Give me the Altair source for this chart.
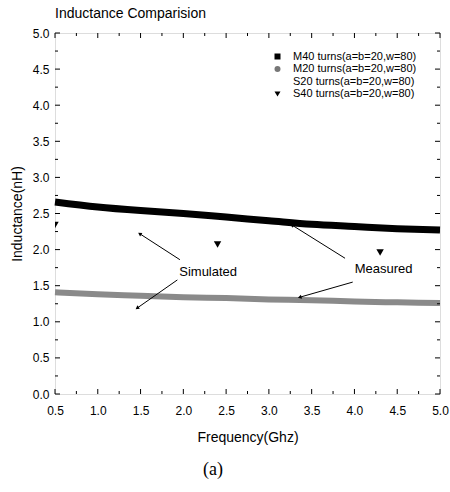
import altair as alt
import pandas as pd

# ---- data ----
freq = [0.5, 1.0, 1.5, 2.0, 2.5, 3.0, 3.5, 4.0, 4.5, 5.0]
m40 = [2.66, 2.59, 2.54, 2.50, 2.45, 2.40, 2.35, 2.32, 2.29, 2.27]
m20 = [1.41, 1.38, 1.36, 1.34, 1.33, 1.31, 1.30, 1.28, 1.27, 1.26]

s40_freq = [0.5, 2.4, 4.3]
s40_val = [2.34, 2.07, 1.96]
s20_freq = [0.5]
s20_val = [1.26]

series = ["M40 turns(a=b=20,w=80)", "M20 turns(a=b=20,w=80)",
          "S20 turns(a=b=20,w=80)", "S40 turns(a=b=20,w=80)"]

x_major = [0.5, 1.0, 1.5, 2.0, 2.5, 3.0, 3.5, 4.0, 4.5, 5.0]
x_minor = [0.75, 1.25, 1.75, 2.25, 2.75, 3.25, 3.75, 4.25, 4.75]
y_major = [0.0, 0.5, 1.0, 1.5, 2.0, 2.5, 3.0, 3.5, 4.0, 4.5, 5.0]
y_minor = [0.25, 0.75, 1.25, 1.75, 2.25, 2.75, 3.25, 3.75, 4.25, 4.75]

labels_text = ["Simulated", "Measured"]
labels_x = [2.29, 4.34]
labels_y = [1.69, 1.73]

arrow_tail_x = [1.96, 1.93, 3.89, 3.98]
arrow_tail_y = [1.86, 1.58, 1.88, 1.55]
arrow_head_x = [1.49, 1.46, 3.27, 3.36]
arrow_head_y = [2.22, 1.19, 2.34, 1.34]
arrow_angle = [303, 235, 302, 254]

W, H = 385, 361
FONT = "Liberation Sans"

xs = alt.Scale(domain=[0.5, 5.0], nice=False, zero=False)
ys = alt.Scale(domain=[0.0, 5.0], nice=False, zero=False)

bands = pd.DataFrame({
    "f": freq * 2,
    "v": m40 + m20,
    "s": [series[0]] * len(freq) + [series[1]] * len(freq),
})

pts = pd.DataFrame({
    "f": s40_freq + s20_freq,
    "v": s40_val + s20_val,
    "s": [series[3]] * len(s40_freq) + [series[2]] * len(s20_freq),
})

x_axis = alt.Axis(values=x_major, format=".1f", ticks=False, domain=False, grid=False,
                  labelFont=FONT, labelFontSize=12, labelColor="black", labelPadding=11,
                  labelOverlap=False,
                  title="Frequency(Ghz)", titleFont=FONT, titleFontSize=14,
                  titleFontWeight="normal", titleColor="black", titlePadding=14,
                  labelFlush=False)
y_axis = alt.Axis(values=y_major, format=".1f", ticks=False, domain=False, grid=False,
                  labelFont=FONT, labelFontSize=12, labelColor="black", labelPadding=6,
                  labelOverlap=False,
                  title="Inductance(nH)", titleFont=FONT, titleFontSize=14,
                  titleFontWeight="normal", titleColor="black", titlePadding=8,
                  labelFlush=False)

def X(field):
    return alt.X(field, scale=xs, axis=x_axis)

def Y(field):
    return alt.Y(field, scale=ys, axis=y_axis)

m40_line = alt.Chart(bands).transform_filter(alt.datum.s == series[0]).mark_line(
    color="black", strokeWidth=7, interpolate="monotone").encode(
    x=X("f:Q"), y=Y("v:Q"))
m20_line = alt.Chart(bands).transform_filter(alt.datum.s == series[1]).mark_line(
    color="#8a8a8a", strokeWidth=6, interpolate="monotone").encode(
    x=X("f:Q"), y=Y("v:Q"))

leg = alt.Legend(title=None, orient="none", legendX=217, legendY=18,
                 labelFont=FONT, labelFontSize=11, labelColor="black",
                 symbolSize=36, labelOffset=10, rowPadding=0.5,
                 padding=0, symbolStrokeWidth=0, symbolOpacity=1)

points = alt.Chart(pts).mark_point(filled=True, size=55, opacity=1, clip=True).encode(
    x=X("f:Q"), y=Y("v:Q"),
    shape=alt.Shape("s:N", scale=alt.Scale(domain=series,
                    range=["square", "circle", "M0,0", "triangle-down"]), legend=leg),
    color=alt.Color("s:N", scale=alt.Scale(domain=series,
                    range=["black", "#777777", "black", "black"]), legend=leg),
)

ann_txt = alt.Chart(pd.DataFrame({"t": labels_text, "x": labels_x, "y": labels_y})).mark_text(
    font=FONT, fontSize=13, color="black").encode(
    x=X("x:Q"), y=Y("y:Q"), text="t:N")

arr = pd.DataFrame({"x": arrow_tail_x, "y": arrow_tail_y, "x2": arrow_head_x,
                    "y2": arrow_head_y, "a": arrow_angle})
ann_rule = alt.Chart(arr).mark_rule(color="black", strokeWidth=1).encode(
    x=X("x:Q"), y=Y("y:Q"), x2="x2:Q", y2="y2:Q")
ann_head = alt.Chart(arr).mark_point(shape="triangle-up", filled=True, size=18,
                                     color="black", opacity=1).encode(
    x=X("x2:Q"), y=Y("y2:Q"), angle=alt.Angle("a:Q", scale=None))

# inward ticks (major / minor) on all four sides
xmaj = pd.DataFrame({"v": x_major})
xmin = pd.DataFrame({"v": x_minor})
ymaj = pd.DataFrame({"v": y_major})
ymin = pd.DataFrame({"v": y_minor})

def xt(df, L, bottom=True):
    return alt.Chart(df).mark_rule(color="black", strokeWidth=1).encode(
        x=X("v:Q"),
        y=alt.value(H if bottom else 0), y2=alt.value(H - L if bottom else L))

def yt(df, L, left=True):
    return alt.Chart(df).mark_rule(color="black", strokeWidth=1).encode(
        y=Y("v:Q"),
        x=alt.value(0 if left else W), x2=alt.value(L if left else W - L))

ticks = [xt(xmaj, 5), xt(xmin, 3), xt(xmaj, 5, False), xt(xmin, 3, False),
         yt(ymaj, 5), yt(ymin, 3), yt(ymaj, 5, False), yt(ymin, 3, False)]

caption = alt.Chart(pd.DataFrame({"t": ["(a)"]})).mark_text(
    font="Liberation Serif", fontSize=18, color="black", baseline="middle").encode(
    x=alt.value(158), y=alt.value(437), text="t:N")

chart = alt.layer(m40_line, m20_line, points, ann_rule, ann_head, ann_txt, *ticks, caption).properties(
    width=W, height=H,
    title=alt.TitleParams("Inductance Comparision", anchor="start", font=FONT, fontSize=14,
                          fontWeight="normal", color="black", offset=6, frame="group"),
    autosize=alt.AutoSizeParams(type="none"),
    padding={"left": 55, "top": 33, "right": 10, "bottom": 98},
).configure_view(stroke="black", strokeWidth=1.5).configure(background="white")

chart.save("out.html", embed_options={"renderer": "svg", "actions": False})
